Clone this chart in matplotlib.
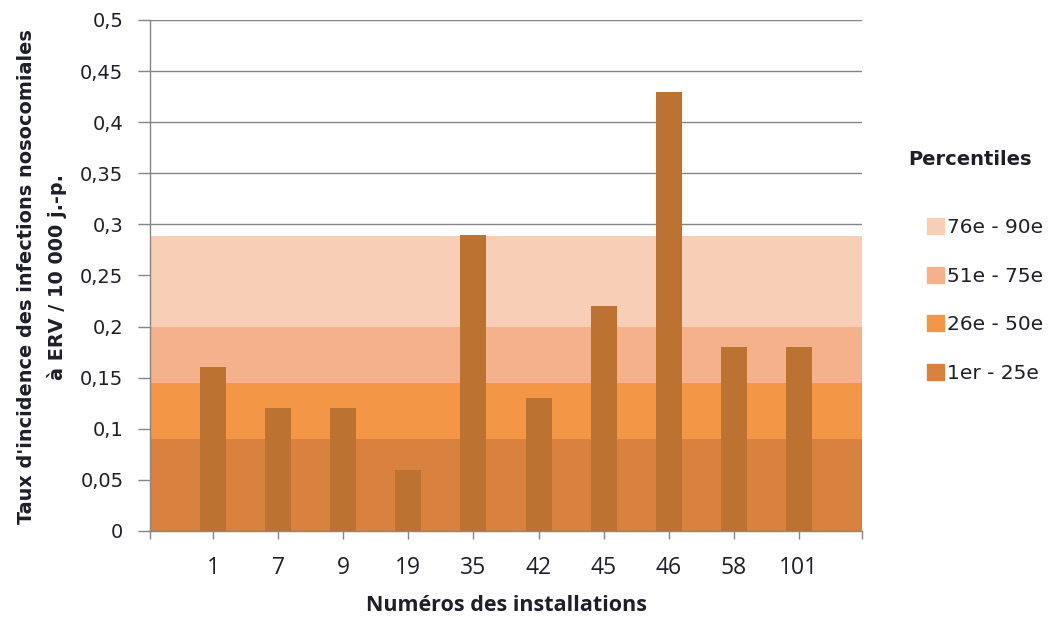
import numpy as np
import matplotlib.pyplot as plt
from matplotlib.patches import Patch

# ── data ─────────────────────────────────────────────────────────────────────
installations = ["1", "7", "9", "19", "35", "42", "45", "46", "58", "101"]
taux = [0.16, 0.12, 0.12, 0.06, 0.29, 0.13, 0.22, 0.43, 0.18, 0.18]

band_labels = ["1er - 25e", "26e - 50e", "51e - 75e", "76e - 90e"]
band_tops = [0.09, 0.145, 0.20, 0.289]
band_colors = ["#D9823F", "#F39646", "#F5B18B", "#F9CEB7"]

bar_color = "#BC7231"
grid_color = "#868686"
text_color = "#1F1F2A"

# ── figure ───────────────────────────────────────────────────────────────────
fig = plt.figure(figsize=(10.52, 6.17), dpi=100)
ax = fig.add_axes([0.1426, 0.1394, 0.8194 - 0.1426, 0.9676 - 0.1394])

x = np.arange(len(installations))
ax.set_xlim(-0.97, len(installations) - 1 + 0.97)
ax.set_ylim(0, 0.5)

# horizontal grid (under the bands)
yt = np.arange(0, 0.501, 0.05)
for y in yt[1:]:
    ax.axhline(y, color=grid_color, lw=1.0, zorder=0)

# percentile bands
bottoms = [0] + band_tops[:-1]
for lo, hi, col in zip(bottoms, band_tops, band_colors):
    ax.axhspan(lo, hi, color=col, lw=0, zorder=1)

ax.bar(x, taux, width=0.4, color=bar_color, zorder=2)

# axes styling
for s in ["top", "right"]:
    ax.spines[s].set_visible(False)
for s in ["left", "bottom"]:
    ax.spines[s].set_color(grid_color)
    ax.spines[s].set_linewidth(1.0)
    ax.spines[s].set_zorder(3)

ax.set_yticks(yt)
ax.set_yticklabels([("%g" % v).replace(".", ",") for v in yt],
                   fontsize=14, color=text_color, family="DejaVu Sans")
ax.tick_params(axis="y", length=8.6, width=1, color=grid_color, pad=10.5)

ax.set_xticks(x)
ax.set_xticklabels(installations, fontsize=16.5, color=text_color, family="Open Sans")
ax.set_xticks(list(ax.get_xlim()), minor=True)
ax.tick_params(axis="x", which="both", length=6, width=1, color=grid_color, pad=12)

ax.set_xlabel("Numéros des installations", fontsize=15.5, fontweight="bold",
              color=text_color, family="Open Sans")
ax.xaxis.set_label_coords(0.5, -0.126)
ax.set_ylabel("Taux d'incidence des infections nosocomiales\nà ERV / 10 000 j.-p.",
              fontsize=13.9, fontweight="bold", color=text_color,
              family="DejaVu Sans", linespacing=1.7)
ax.yaxis.set_label_coords(-0.116, 0.497)

# legend
fig.text(0.922, 0.742, "Percentiles", fontsize=14, fontweight="bold",
         color=text_color, ha="center", va="center", family="DejaVu Sans")
handles = [Patch(color=c) for c in band_colors[::-1]]
leg = fig.legend(handles, band_labels[::-1], loc="upper left",
                 bbox_to_anchor=(0.864, 0.676), frameon=False,
                 prop={"family": "DejaVu Sans", "size": 14.5},
                 handlelength=0.85, handleheight=0.85,
                 handletextpad=0.15, labelspacing=1.47)
for t in leg.get_texts():
    t.set_color(text_color)

fig.savefig("out.png", dpi=100)
plt.close(fig)
